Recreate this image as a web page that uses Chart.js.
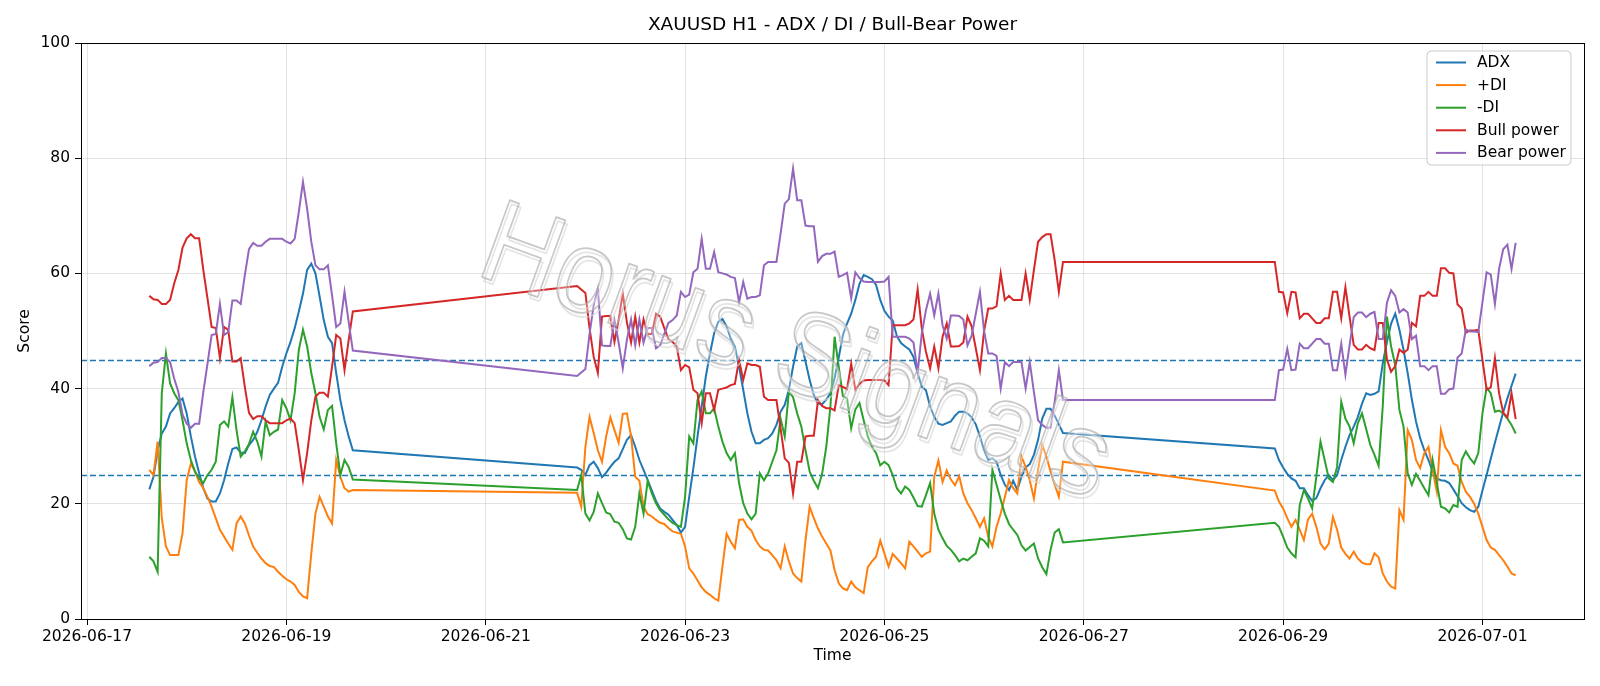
<!DOCTYPE html>
<html>
<head>
<meta charset="utf-8">
<title>XAUUSD H1 - ADX / DI / Bull-Bear Power</title>
<script src="https://cdn.jsdelivr.net/npm/chart.js@4.4.1/dist/chart.umd.min.js"></script>
<style>
  html, body { margin: 0; padding: 0; background: #ffffff; }
  #wrap { width: 1600px; height: 686px; }
</style>
</head>
<body>
<div id="wrap"><canvas id="chart" width="1600" height="686"></canvas></div>
<script>
// hourly sessions (market closed over the weekends)
const origin = "2026-06-17T00:00";
const sessionStart = ["2026-06-17T15:00", "2026-06-21T22:00", "2026-06-28T22:00"];
const sessionHours = [50, 118, 59];

const tickLabels = ["2026-06-17", "2026-06-19", "2026-06-21", "2026-06-23", "2026-06-25", "2026-06-27", "2026-06-29", "2026-07-01"];
const levelLines = [45, 25];

const adx = [
  22.5, 24.7, 29.3, 32.2, 33.4, 35.7, 36.6, 37.7, 38.3, 35.7,
  31.7, 28.2, 25.3, 22.7, 20.9, 20.4, 20.4, 21.8, 24.1, 27.0,
  29.5, 29.8, 28.9, 28.8, 30.2, 31.1, 32.5, 34.5, 36.9, 38.9,
  40.0, 41.0, 43.8, 46.1, 48.1, 50.5, 53.4, 56.5, 60.6, 61.7,
  60.0, 56.0, 51.9, 49.0, 47.9, 42.7, 38.0, 34.5, 31.7, 29.3,
  26.3, 25.9, 25.0, 26.7, 27.3, 26.2, 24.6, 25.4, 26.4, 27.3,
  27.9, 29.5, 31.1, 31.9, 29.9, 27.6, 25.9, 24.1, 22.3, 20.5,
  19.2, 18.6, 18.1, 17.2, 16.3, 15.0, 16.0, 21.2, 26.2, 31.7,
  36.9, 42.1, 46.1, 49.6, 51.6, 52.1, 50.8, 48.7, 47.3, 43.8,
  39.8, 35.7, 32.5, 30.5, 30.5, 31.1, 31.4, 32.2, 33.7, 36.0,
  37.2, 39.8, 43.8, 47.3, 47.9, 44.7, 41.5, 38.9, 37.4, 37.3,
  38.1, 39.2, 41.8, 45.4, 49.3, 51.3, 53.0, 55.4, 58.2, 59.7,
  59.4, 59.0, 58.0, 55.4, 53.5, 52.5, 51.8, 49.1, 47.9, 47.3,
  46.8, 45.5, 42.7, 40.3, 39.7, 36.9, 35.1, 33.9, 33.7, 34.0,
  34.3, 35.3, 36.0, 36.0, 35.7, 35.0, 33.8, 31.7, 29.3, 27.6,
  27.9, 27.3, 25.0, 23.3, 22.4, 24.0, 22.4, 24.7, 26.3, 26.9,
  28.5, 31.1, 34.8, 36.5, 36.5, 35.3, 33.8, 32.3,
  29.6, 27.6, 26.3, 25.2, 24.4, 24.0, 22.7, 22.7, 21.5, 20.5,
  21.0, 22.7, 24.1, 25.0, 24.1, 25.0, 27.6, 29.9, 31.9, 33.4,
  35.1, 37.4, 39.2, 38.9, 39.1, 39.5, 44.4, 48.1, 51.3, 53.0,
  50.2, 46.7, 42.7, 38.1, 34.3, 31.4, 29.3, 27.6, 25.6, 24.4,
  24.1, 24.0, 23.6, 22.5, 21.3, 20.1, 19.4, 18.9, 18.6, 19.5,
  22.3, 25.0, 27.8, 30.6, 33.3, 35.9, 38.3, 40.5, 42.6
];

const plusDi = [
  25.9, 25.0, 30.8, 17.5, 12.6, 11.1, 11.1, 11.1, 14.9, 24.1,
  27.0, 25.6, 23.8, 22.7, 21.2, 19.5, 17.5, 15.5, 14.3, 13.1,
  12.0, 16.6, 17.8, 16.6, 14.5, 12.6, 11.5, 10.5, 9.7, 9.2,
  9.0, 8.2, 7.5, 6.9, 6.5, 5.9, 4.7, 3.9, 3.6, 11.4,
  18.3, 21.2, 19.5, 17.8, 16.6, 27.6, 24.7, 22.7, 22.1, 22.4,
  21.9, 19.5, 29.9, 35.1, 32.3, 29.3, 27.3, 31.7, 35.0, 32.8,
  30.6, 35.6, 35.7, 31.7, 24.7, 24.0, 19.5, 18.2, 17.8, 17.2,
  16.7, 16.5, 15.8, 15.2, 15.0, 14.8, 12.6, 8.8, 7.9, 6.7,
  5.5, 4.7, 4.2, 3.6, 3.2, 9.1, 14.8, 13.4, 12.3, 17.2,
  17.3, 16.0, 15.3, 13.7, 12.6, 12.0, 11.9, 11.1, 10.2, 8.8,
  12.6, 10.0, 7.9, 7.1, 6.5, 13.7, 19.5, 17.5, 15.7, 14.3,
  13.1, 11.9, 8.5, 6.2, 5.3, 5.0, 6.5, 5.5, 5.0, 4.5,
  9.0, 10.0, 10.8, 13.6, 11.4, 9.1, 11.3, 10.5, 9.7, 8.8,
  13.4, 12.6, 11.7, 10.8, 11.4, 11.7, 24.7, 27.5, 23.8, 25.8,
  24.2, 23.2, 24.8, 21.8, 20.1, 18.9, 17.5, 16.0, 17.5, 14.3,
  12.6, 16.0, 18.3, 21.2, 24.1, 22.7, 21.8, 28.2, 26.4, 24.1,
  20.9, 25.9, 30.2, 28.2, 25.6, 23.3, 21.2, 27.3,
  22.3, 20.4, 19.2, 17.5, 16.0, 17.2, 15.5, 13.7, 17.3, 18.3,
  16.0, 13.1, 12.1, 13.1, 17.7, 15.5, 12.4, 11.3, 10.5, 11.7,
  10.5, 9.8, 9.5, 9.5, 11.4, 10.7, 7.9, 6.5, 5.6, 5.3,
  18.9, 17.2, 32.8, 31.1, 27.6, 26.2, 28.8, 29.9, 25.9, 22.1,
  32.8, 29.9, 28.8, 27.0, 26.6, 23.8, 22.1, 21.2, 20.0, 18.3,
  16.0, 13.7, 12.4, 12.0, 11.1, 10.2, 9.1, 7.9, 7.6
];

const minusDi = [
  10.8, 10.0, 8.2, 39.2, 46.1, 40.9, 39.2, 38.0, 34.5, 30.5,
  27.6, 25.6, 24.4, 23.6, 25.0, 25.9, 27.3, 33.7, 34.3, 33.4,
  38.5, 32.8, 28.2, 29.1, 30.4, 32.5, 30.8, 28.2, 34.3, 31.9,
  32.5, 32.9, 38.0, 36.6, 34.5, 39.2, 46.7, 50.2, 47.3, 42.7,
  39.2, 35.1, 32.9, 36.3, 37.0, 30.5, 25.0, 27.6, 26.4, 24.2,
  22.4, 25.0, 18.3, 17.1, 18.6, 21.8, 20.1, 18.5, 18.2, 16.9,
  16.7, 15.6, 14.0, 13.8, 16.0, 21.8, 18.3, 24.0, 21.8, 20.1,
  18.9, 18.1, 17.3, 16.7, 16.3, 16.0, 21.2, 31.7, 30.5, 38.0,
  39.5, 35.7, 35.7, 36.6, 33.4, 30.8, 28.8, 27.6, 28.8, 23.6,
  20.1, 18.3, 17.3, 18.3, 25.3, 24.1, 25.3, 27.3, 29.3, 34.8,
  31.7, 39.5, 38.5, 35.7, 33.4, 29.3, 25.6, 24.0, 22.7, 25.2,
  29.9, 36.9, 49.0, 43.8, 38.7, 38.3, 33.1, 36.4, 37.5, 34.5,
  31.7, 29.9, 28.8, 26.7, 27.3, 26.7, 25.0, 22.7, 21.8, 23.0,
  22.4, 21.1, 19.6, 19.5, 21.5, 23.6, 18.3, 15.5, 14.0, 12.7,
  12.0, 11.1, 10.0, 10.5, 10.2, 10.8, 11.4, 14.0, 13.6, 12.6,
  25.9, 23.3, 20.7, 18.3, 16.5, 15.5, 14.6, 12.8, 11.9, 12.5,
  13.1, 10.5, 9.0, 7.8, 12.0, 15.0, 15.6, 13.3,
  16.7, 16.0, 14.3, 12.4, 11.4, 10.7, 19.8, 22.4, 20.9, 19.2,
  24.7, 30.8, 27.6, 24.4, 23.8, 26.4, 37.7, 34.8, 33.4, 30.5,
  34.0, 35.7, 33.0, 30.2, 28.5, 26.6, 37.0, 52.5, 47.3, 44.1,
  36.3, 33.4, 25.3, 23.3, 25.2, 24.0, 22.7, 21.5, 27.6, 23.7,
  19.5, 19.2, 18.5, 19.8, 19.5, 27.6, 29.1, 27.9, 27.0, 28.8,
  35.7, 40.2, 39.2, 36.0, 36.2, 35.7, 34.8, 33.7, 32.2
];

const bullPower = [
  56.1, 55.5, 55.4, 54.7, 54.7, 55.4, 58.3, 60.6, 64.5, 66.1,
  66.8, 66.1, 66.1, 60.6, 55.7, 50.7, 50.5, 45.3, 50.7, 50.2,
  44.7, 44.7, 45.3, 40.3, 35.8, 34.7, 35.2, 35.2, 34.5, 34.0,
  34.0, 34.0, 34.0, 34.5, 34.8, 34.0, 29.3, 24.1, 28.8, 34.5,
  38.6, 39.3, 39.3, 38.6, 43.8, 49.3, 48.7, 43.2, 48.4, 53.4,
  57.8, 57.2, 56.6, 50.5, 45.5, 42.7, 52.5, 52.6, 52.6, 48.1,
  52.0, 56.5, 51.5, 48.0, 52.5, 48.0, 52.0, 49.5, 49.5, 53.0,
  52.5, 50.5, 48.6, 48.1, 47.3, 43.2, 44.1, 43.7, 39.8, 39.2,
  34.0, 39.2, 39.2, 36.3, 39.8, 40.0, 40.2, 40.6, 40.8, 45.0,
  41.5, 44.4, 44.1, 44.1, 43.8, 38.6, 38.0, 38.0, 38.0, 33.1,
  27.9, 27.1, 21.8, 27.3, 27.3, 31.7, 31.8, 31.8, 38.0, 37.0,
  36.6, 36.6, 36.2, 40.6, 40.3, 39.9, 44.3, 39.8, 40.8, 41.4,
  41.5, 41.5, 41.5, 41.5, 41.4, 40.6, 51.0, 51.0, 51.0, 51.0,
  51.3, 52.0, 57.2, 50.4, 46.4, 43.5, 47.3, 43.5, 49.0, 51.3,
  47.3, 47.3, 47.4, 48.0, 52.5, 50.8, 47.0, 43.2, 50.0, 53.9,
  53.9, 54.3, 60.0, 55.4, 56.1, 55.4, 55.4, 55.4, 60.0, 55.4,
  60.6, 65.5, 66.3, 66.8, 66.8, 62.3, 56.8, 62.0,
  62.0, 56.8, 56.7, 53.1, 56.8, 56.7, 52.2, 53.0, 53.0, 52.2,
  51.4, 51.4, 52.2, 52.2, 56.8, 56.8, 52.2, 57.6, 52.5, 47.6,
  46.8, 46.8, 47.6, 47.0, 46.7, 51.4, 51.4, 45.1, 42.9, 43.9,
  46.8, 46.2, 46.8, 51.4, 50.8, 56.1, 56.1, 56.8, 56.1, 56.1,
  60.9, 60.9, 60.1, 60.0, 54.6, 53.9, 49.7, 50.1, 50.1, 50.2,
  45.0, 39.8, 40.2, 45.3, 39.2, 35.8, 35.0, 39.2, 34.7
];

const bearPower = [
  43.9, 44.5, 44.6, 45.3, 45.3, 44.6, 41.7, 39.4, 35.5, 33.9,
  33.2, 33.9, 33.9, 39.4, 44.3, 49.3, 49.5, 54.7, 49.3, 49.8,
  55.3, 55.3, 54.7, 59.7, 64.2, 65.3, 64.8, 64.8, 65.5, 66.0,
  66.0, 66.0, 66.0, 65.5, 65.2, 66.0, 70.7, 75.9, 71.2, 65.5,
  61.4, 60.7, 60.7, 61.4, 56.2, 50.7, 51.3, 56.8, 51.6, 46.6,
  42.2, 42.8, 43.4, 49.5, 54.5, 57.3, 47.5, 47.4, 47.4, 51.9,
  48.0, 43.5, 48.5, 52.0, 47.5, 52.0, 48.0, 50.5, 50.5, 47.0,
  47.5, 49.5, 51.4, 51.9, 52.7, 56.8, 55.9, 56.3, 60.2, 60.8,
  66.0, 60.8, 60.8, 63.7, 60.2, 60.0, 59.8, 59.4, 59.2, 55.0,
  58.5, 55.6, 55.9, 55.9, 56.2, 61.4, 62.0, 62.0, 62.0, 66.9,
  72.1, 72.9, 78.2, 72.7, 72.7, 68.3, 68.2, 68.2, 62.0, 63.0,
  63.4, 63.4, 63.8, 59.4, 59.7, 60.1, 55.7, 60.2, 59.2, 58.6,
  58.5, 58.5, 58.5, 58.5, 58.6, 59.4, 49.0, 49.0, 49.0, 49.0,
  48.7, 48.0, 42.8, 49.6, 53.6, 56.5, 52.7, 56.5, 51.0, 48.7,
  52.7, 52.7, 52.6, 52.0, 47.5, 49.2, 53.0, 56.8, 50.0, 46.1,
  46.1, 45.7, 40.0, 44.6, 43.9, 44.6, 44.6, 44.6, 40.0, 44.6,
  39.4, 34.5, 33.7, 33.2, 33.2, 37.7, 43.2, 38.0,
  38.0, 43.2, 43.3, 46.9, 43.2, 43.3, 47.8, 47.0, 47.0, 47.8,
  48.6, 48.6, 47.8, 47.8, 43.2, 43.2, 47.8, 42.4, 47.5, 52.4,
  53.2, 53.2, 52.4, 53.0, 53.3, 48.6, 48.6, 54.9, 57.1, 56.1,
  53.2, 53.8, 53.2, 48.6, 49.2, 43.9, 43.9, 43.2, 43.9, 43.9,
  39.1, 39.1, 39.9, 40.0, 45.4, 46.1, 50.3, 49.9, 49.9, 49.8,
  55.0, 60.2, 59.8, 54.7, 60.8, 64.2, 65.0, 60.8, 65.3
];

document.addEventListener("DOMContentLoaded", function () {
  const FONT = "'DejaVu Sans', 'Liberation Sans', sans-serif";

  function hoursFromOrigin(stamp) {
    return (Date.parse(stamp + ":00Z") - Date.parse(origin + ":00Z")) / 3600000;
  }

  const times = [];
  sessionStart.forEach(function (s, i) {
    const h0 = hoursFromOrigin(s);
    for (let k = 0; k < sessionHours[i]; k++) times.push(h0 + k);
  });
  const tickPos = tickLabels.map((d) => hoursFromOrigin(d + "T00:00"));

  // matplotlib style 5% margins on the x range
  const span = times[times.length - 1] - times[0];
  const xMin = times[0] - span * 0.05;
  const xMax = times[times.length - 1] + span * 0.05;

  function toPoints(values) {
    return values.map((v, i) => ({ x: times[i], y: v }));
  }

  const seriesDefs = [
    { label: "ADX", values: adx, color: "#1f77b4" },
    { label: "+DI", values: plusDi, color: "#ff7f0e" },
    { label: "-DI", values: minusDi, color: "#2ca02c" },
    { label: "Bull power", values: bullPower, color: "#d62728" },
    { label: "Bear power", values: bearPower, color: "#9467bd" },
  ];

  const frameAndExtras = {
    id: "frameAndExtras",
    beforeDatasetsDraw(chart) {
      const { ctx, chartArea, scales } = chart;
      ctx.save();
      ctx.strokeStyle = "#1f77b4";
      ctx.lineWidth = 1.3;
      ctx.setLineDash([6, 3]);
      levelLines.forEach(function (lv) {
        const y = Math.round(scales.y.getPixelForValue(lv)) + 0.5;
        ctx.beginPath();
        ctx.moveTo(chartArea.left, y);
        ctx.lineTo(chartArea.right, y);
        ctx.stroke();
      });
      ctx.restore();
    },
    afterDatasetsDraw(chart) {
      // watermark
      const { ctx } = chart;
      ctx.save();
      ctx.translate(795, 356);
      ctx.rotate((20 * Math.PI) / 180);
      ctx.scale(1, 1.12);
      ctx.font = "106px 'Liberation Sans', sans-serif";
      ctx.textAlign = "center";
      ctx.textBaseline = "middle";
      ctx.lineJoin = "round";
      ctx.fillStyle = "rgba(255,255,255,0.3)";
      ctx.fillText("Horus Signals", 0, 0);
      ctx.lineWidth = 1.6;
      ctx.strokeStyle = "rgba(215,215,215,0.65)";
      ctx.strokeText("Horus Signals", 3, 3);
      ctx.strokeStyle = "rgba(175,175,175,0.7)";
      ctx.strokeText("Horus Signals", 0, 0);
      ctx.restore();
    },
    afterDraw(chart) {
      const { ctx, chartArea } = chart;
      ctx.save();
      // frame
      ctx.strokeStyle = "#000";
      ctx.lineWidth = 1;
      ctx.strokeRect(
        Math.round(chartArea.left) + 0.5,
        Math.round(chartArea.top) + 0.5,
        Math.round(chartArea.right - chartArea.left),
        Math.round(chartArea.bottom - chartArea.top)
      );
      // title
      ctx.fillStyle = "#000";
      ctx.font = "18.5px " + FONT;
      ctx.textAlign = "center";
      ctx.textBaseline = "middle";
      ctx.fillText("XAUUSD H1 - ADX / DI / Bull-Bear Power", (chartArea.left + chartArea.right) / 2, 25.5);

      // legend
      const bx = 1427, by = 51, bw = 144, bh = 114, r = 4;
      ctx.beginPath();
      ctx.moveTo(bx + r, by);
      ctx.arcTo(bx + bw, by, bx + bw, by + bh, r);
      ctx.arcTo(bx + bw, by + bh, bx, by + bh, r);
      ctx.arcTo(bx, by + bh, bx, by, r);
      ctx.arcTo(bx, by, bx + bw, by, r);
      ctx.closePath();
      ctx.fillStyle = "rgba(255,255,255,0.8)";
      ctx.fill();
      ctx.strokeStyle = "#cccccc";
      ctx.stroke();
      ctx.font = "15.5px " + FONT;
      ctx.textAlign = "left";
      chart.data.datasets.forEach(function (ds, i) {
        const y = 62.5 + i * 22.6;
        ctx.strokeStyle = ds.borderColor;
        ctx.lineWidth = 2;
        ctx.beginPath();
        ctx.moveTo(1436, y);
        ctx.lineTo(1466, y);
        ctx.stroke();
        ctx.fillStyle = "#000";
        ctx.fillText(ds.label, 1477, y + 0.5);
      });
      ctx.restore();
    },
  };

  new Chart(document.getElementById("chart"), {
    type: "line",
    data: {
      datasets: seriesDefs.map(function (s, i) {
        return {
          label: s.label,
          data: toPoints(s.values),
          borderColor: s.color,
          backgroundColor: s.color,
          borderWidth: 2,
          pointRadius: 0,
          tension: 0,
          fill: false,
          order: seriesDefs.length - i, // later series on top, like matplotlib
        };
      }),
    },
    options: {
      responsive: false,
      animation: false,
      devicePixelRatio: 1,
      layout: { padding: { top: 43, right: 16, left: 0, bottom: 0 } },
      plugins: {
        legend: { display: false },
        title: { display: false },
        tooltip: { enabled: false },
      },
      scales: {
        x: {
          type: "linear",
          min: xMin,
          max: xMax,
          afterBuildTicks: (scale) => {
            scale.ticks = tickPos.map((v) => ({ value: v }));
          },
          afterFit: (scale) => {
            scale.height = 67;
          },
          ticks: {
            autoSkip: false,
            maxRotation: 0,
            padding: 3,
            color: "#000",
            font: { family: FONT, size: 15.5 },
            callback: (v, i) => tickLabels[i],
          },
          grid: {
            color: "rgba(176,176,176,0.35)",
            tickColor: "#000",
            tickLength: 6,
          },
          border: { display: true, color: "#000", width: 1 },
          title: {
            display: true,
            text: "Time",
            color: "#000",
            font: { family: FONT, size: 15.5 },
            padding: { top: 0, bottom: 21 },
          },
        },
        y: {
          min: 0,
          max: 100,
          afterFit: (scale) => {
            scale.width = 81;
          },
          ticks: {
            stepSize: 20,
            padding: 5,
            color: "#000",
            font: { family: FONT, size: 15.5 },
          },
          grid: {
            color: "rgba(176,176,176,0.35)",
            tickColor: "#000",
            tickLength: 6,
          },
          border: { display: true, color: "#000", width: 1 },
          title: {
            display: true,
            text: "Score",
            color: "#000",
            font: { family: FONT, size: 15.5 },
            padding: { top: 16, bottom: 0 },
          },
        },
      },
    },
    plugins: [frameAndExtras],
  });
});
</script>
</body>
</html>
